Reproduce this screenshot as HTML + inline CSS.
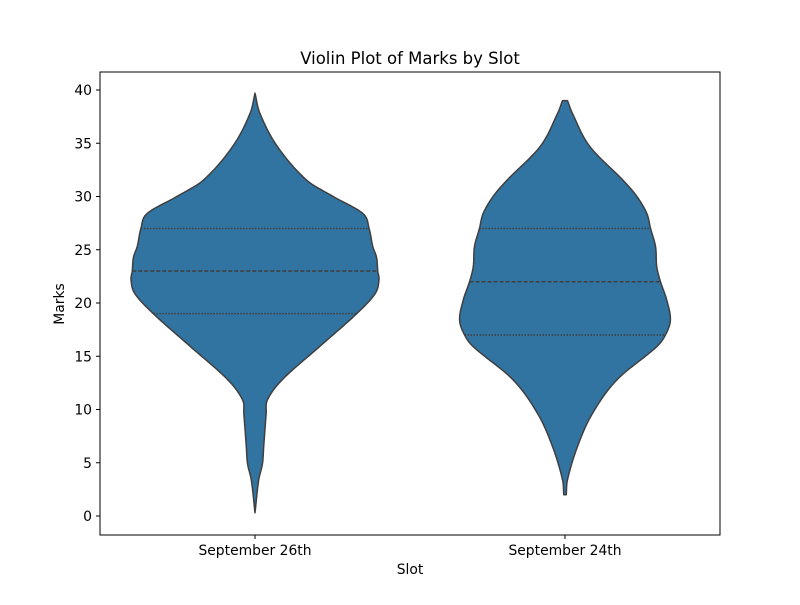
<!DOCTYPE html>
<html><head><meta charset="utf-8"><style>
body{margin:0;background:#fff}
svg text{font-family:"DejaVu Sans","Liberation Sans",sans-serif;fill:#000}
</style></head><body>
<svg id="chart" width="800" height="600" viewBox="0 0 800 600" xmlns="http://www.w3.org/2000/svg">
<rect width="800" height="600" fill="#fff"/>
<text x="410" y="64" font-size="16.5" text-anchor="middle">Violin Plot of Marks by Slot</text>
<g id="plot"></g>
<rect x="100" y="72" width="620" height="463" fill="none" stroke="#000" stroke-width="1"/>
<text x="410" y="574" font-size="13.9" text-anchor="middle">Slot</text>
<text transform="translate(64,304) rotate(-90)" font-size="13.9" text-anchor="middle">Marks</text>
</svg>
<script>
const categories = ["September 26th", "September 24th"];
const yTicks = [0, 5, 10, 15, 20, 25, 30, 35, 40];
// density profiles: marks value and relative half-width (1 = widest)
const v1Values = [39.7, 37.8, 34.7, 31.5, 30.0, 28.4, 27.0, 25.3, 24.3, 23.0, 22.2, 20.9, 19.0, 15.9, 12.8, 10.9, 9.6, 6.5, 4.9, 3.4, 0.3];
const v1Density = [0, 0.04, 0.18, 0.42, 0.63, 0.87, 0.92, 0.95, 0.98, 0.99, 1.0, 0.97, 0.82, 0.52, 0.22, 0.10, 0.09, 0.07, 0.06, 0.03, 0];
const v2Values = [39.0, 37.8, 34.7, 31.5, 30.0, 28.4, 27.0, 25.3, 23.4, 22.0, 20.3, 18.4, 17.0, 15.9, 12.8, 9.6, 6.5, 3.4, 2.0];
const v2Density = [0.02, 0.06, 0.20, 0.47, 0.58, 0.66, 0.69, 0.73, 0.74, 0.77, 0.82, 0.85, 0.81, 0.74, 0.42, 0.22, 0.10, 0.02, 0.01];
const quartiles1 = [19, 23, 27];
const quartiles2 = [17, 22, 27];

const NS = "http://www.w3.org/2000/svg";
const plot = document.getElementById("plot");
const svg = document.getElementById("chart");
const X0 = 100, X1 = 720, Y0 = 535, Y1 = 72;
const yScale = v => 516 - v * 10.65;
const xScale = i => X0 + (i + 0.5) * (X1 - X0) / categories.length;
const maxHalf = 124;

function mk(tag, attrs, parent) {
  const e = document.createElementNS(NS, tag);
  for (const k in attrs) e.setAttribute(k, attrs[k]);
  parent.appendChild(e);
  return e;
}
// smooth half-width as a function of value (non-uniform Hermite)
function widthFn(vals, dens) {
  const n = vals.length;
  const m = dens.map((d, i) => {
    if (i === 0 || i === n - 1) {
      const j = i === 0 ? 1 : n - 2;
      return (dens[j] - dens[i]) / (vals[j] - vals[i]);
    }
    return (dens[i + 1] - dens[i - 1]) / (vals[i + 1] - vals[i - 1]);
  });
  return q => {
    for (let i = 0; i < n - 1; i++) {
      const a = vals[i], b = vals[i + 1];
      if (q <= a && q >= b) {
        const h = b - a, t = (q - a) / h;
        const t2 = t * t, t3 = t2 * t;
        const w = (2 * t3 - 3 * t2 + 1) * dens[i] + (t3 - 2 * t2 + t) * h * m[i] +
                  (-2 * t3 + 3 * t2) * dens[i + 1] + (t3 - t2) * h * m[i + 1];
        return Math.max(0, w) * maxHalf;
      }
    }
    return 0;
  };
}
function drawViolin(i, vals, dens, quarts) {
  const cx = xScale(i);
  const f = widthFn(vals, dens);
  const top = vals[0], bot = vals[vals.length - 1];
  const N = 300, right = [], left = [];
  for (let k = 0; k <= N; k++) {
    const v = top + (bot - top) * k / N;
    const w = f(v);
    right.push((cx + w).toFixed(2) + "," + yScale(v).toFixed(2));
    left.unshift((cx - w).toFixed(2) + "," + yScale(v).toFixed(2));
  }
  const p = mk("path", {d: "M" + right.concat(left).join(" L") + " Z", fill: "#3274a1", stroke: "#3f3f3f", "stroke-width": 1.5, "stroke-linejoin": "round"}, plot);
  
  
  quarts.forEach((q, k) => {
    const w = f(q);
    const l = mk("line", {x1: cx - w, x2: cx + w, y1: yScale(q), y2: yScale(q), stroke: "#3f3f3f", "stroke-width": 1.5,
      "stroke-dasharray": k === 1 ? "4,2" : "1.5,1.5"}, plot);
    
    
  });
}
drawViolin(0, v1Values, v1Density, quartiles1);
drawViolin(1, v2Values, v2Density, quartiles2);

yTicks.forEach(t => {
  const y = yScale(t);
  const tk = mk("line", {x1: X0 - 4, x2: X0, y1: y, y2: y, stroke: "#000"}, svg);
  
  
  const tx = mk("text", {x: X0 - 8, y: y + 5, "font-size": 13.9, "text-anchor": "end"}, svg);
  tx.textContent = t;
  
  
});
categories.forEach((c, i) => {
  const x = xScale(i);
  const tk = mk("line", {x1: x, x2: x, y1: Y0, y2: Y0 + 4, stroke: "#000"}, svg);
  
  
  const tx = mk("text", {x: x, y: Y0 + 20, "font-size": 13.9, "text-anchor": "middle"}, svg);
  tx.textContent = c;
  
  
});
</script>
</body></html>
